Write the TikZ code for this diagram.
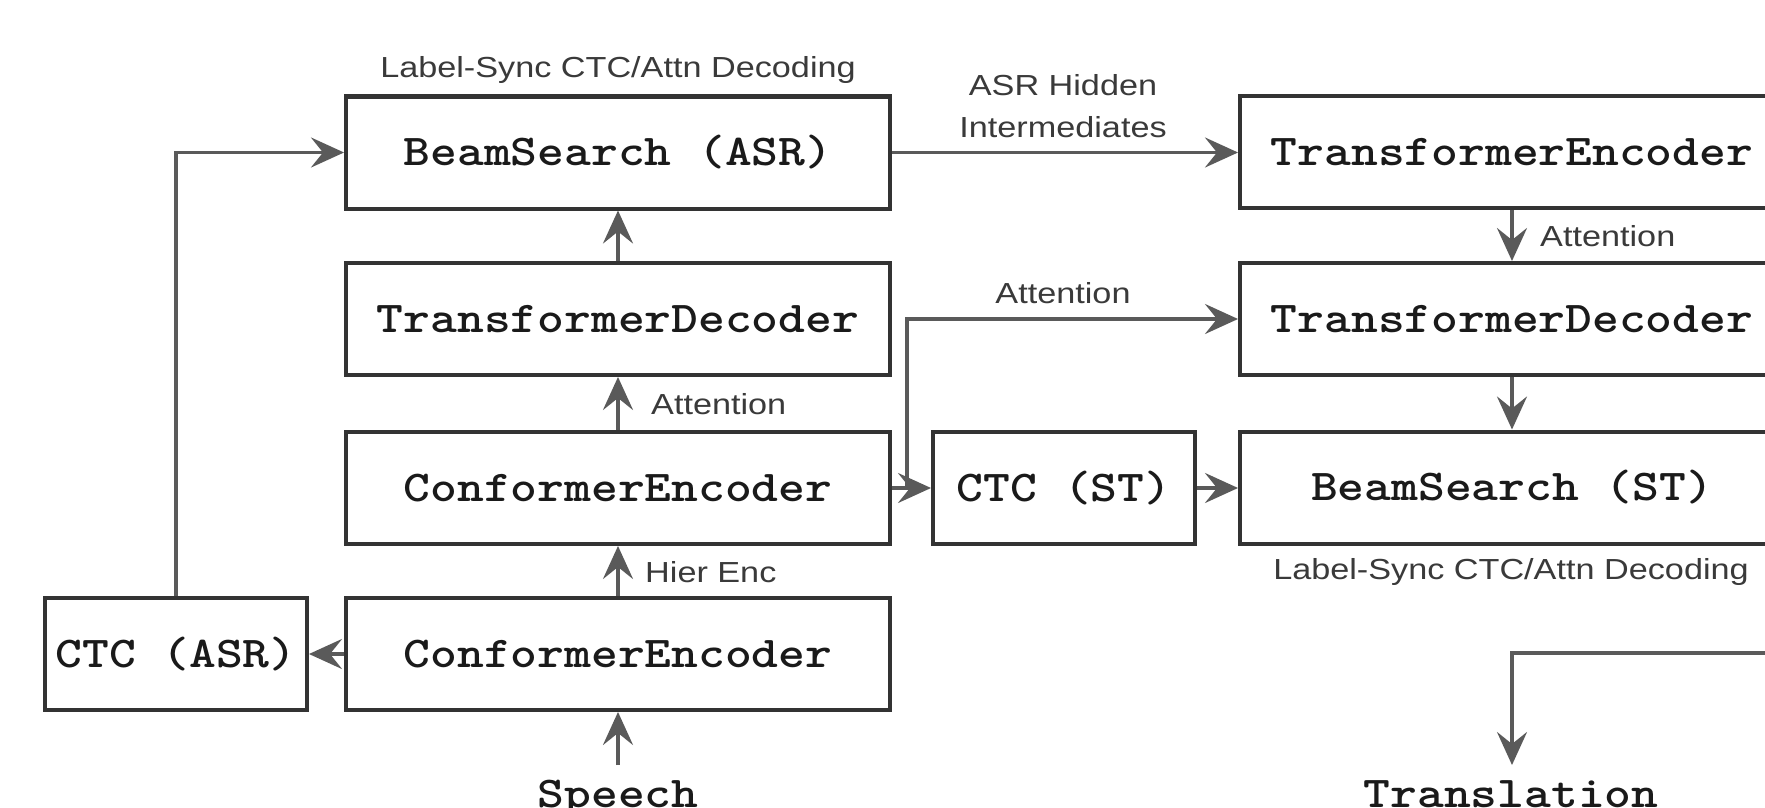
\documentclass[tikz,border=0pt]{standalone}
\usepackage{fontspec}
\usepackage{graphicx}
\newfontfamily\courfont{lmmonolt10-bold.otf}
\newfontfamily\lsansfont{Liberation Sans}
\usetikzlibrary{arrows.meta}
\definecolor{boxline}{HTML}{333333}
\definecolor{arrline}{HTML}{5A5A5A}
\definecolor{txtdark}{HTML}{1A1A1A}
\definecolor{lbldark}{HTML}{3A3A3A}
\newcommand{\hsq}[1]{\scalebox{1.18}[1]{#1}}
\newcommand{\hmono}[1]{\scalebox{1.16}[1]{#1}}
\begin{document}
\begin{tikzpicture}[x=1pt,y=-1pt,
  blk/.style={draw=boxline, line width=4pt, fill=white, inner sep=0pt,
    minimum width=544pt, minimum height=112pt,
    font=\courfont\fontsize{44}{48}\selectfont, text=txtdark},
  smallblk/.style={blk, minimum width=262pt},
  monotxt/.style={inner sep=0pt, font=\courfont\fontsize{44}{48}\selectfont, text=txtdark},
  lbl/.style={inner sep=0pt, font=\lsansfont\fontsize{29}{42}\selectfont, text=lbldark, align=center},
  arr/.style={draw=arrline, line width=3.5pt,
    -{Stealth[length=33pt, width=30pt, inset=12pt]}},
  plain/.style={draw=arrline, line width=3.5pt}
]
\useasboundingbox (0,0) rectangle (1765,808);
\clip (0,0) rectangle (1765,808);
\fill[white] (0,0) rectangle (1765,808);

% left column
\node[blk] (bsasr) at (618,152.5) {\hmono{BeamSearch (ASR)}};
\node[blk] (tdl) at (618,319) {\hmono{TransformerDecoder}};
\node[blk] (ce1) at (618,488) {\hmono{ConformerEncoder}};
\node[blk] (ce2) at (618,654) {\hmono{ConformerEncoder}};
\node[smallblk] (ctcasr) at (176,654) {\hmono{CTC (ASR)}};
\node[smallblk] (ctcst) at (1064,488) {\hmono{CTC (ST)}};
% right column
\node[blk] (te) at (1512,152) {\hmono{TransformerEncoder}};
\node[blk] (tdr) at (1512,319) {\hmono{TransformerDecoder}};
\node[blk] (bsst) at (1512,487.5) {\hmono{BeamSearch (ST)}};

% inputs / outputs
\node[monotxt, anchor=base] (speech) at (618,807) {\hmono{Speech}};
\node[monotxt, anchor=base] (trans) at (1511,807) {\hmono{Translation}};

% labels
\node[lbl] (lblasr) at (618,70) {\hsq{Label-Sync CTC/Attn Decoding}};
\node[lbl] (lblst) at (1511,572) {\hsq{Label-Sync CTC/Attn Decoding}};
\node[lbl] (lblhid) at (1063,106) {\hsq{ASR Hidden}\\\hsq{Intermediates}};
\node[lbl] (lblatt1) at (1063,293) {\hsq{Attention}};
\node[lbl, anchor=west] (lblatt2) at (651,404) {\hsq{Attention}};
\node[lbl, anchor=west] (lblhier) at (645,572) {\hsq{Hier Enc}};
\node[lbl, anchor=west] (lblatt3) at (1540,236) {\hsq{Attention}};

% coordinates
\coordinate (br) at (907,488);
\coordinate (tin) at (1800,653);
\coordinate (sp) at (618,765);
\coordinate (tout) at (1512,765);

% connectors
\draw[arr] (sp) -- (ce2.south);
\draw[arr] (ce2) -- (ce1);
\draw[arr] (ce1) -- (tdl);
\draw[arr] (tdl) -- (bsasr);
\draw[arr] (ce2.west) -- (ctcasr.east);
\draw[arr] (ctcasr.north) |- (bsasr.west);
\draw[arr] (bsasr.east) -- (bsasr.east -| te.west);
\draw[arr] (ce1.east) -- (ctcst.west);
\draw[arr] (br) |- (tdr.west);
\draw[arr] (ctcst.east) -- (ctcst.east -| bsst.west);
\draw[arr] (te) -- (tdr);
\draw[arr] (tdr) -- (bsst);
\draw[arr] (tin) -| (tout);
\end{tikzpicture}
\end{document}
